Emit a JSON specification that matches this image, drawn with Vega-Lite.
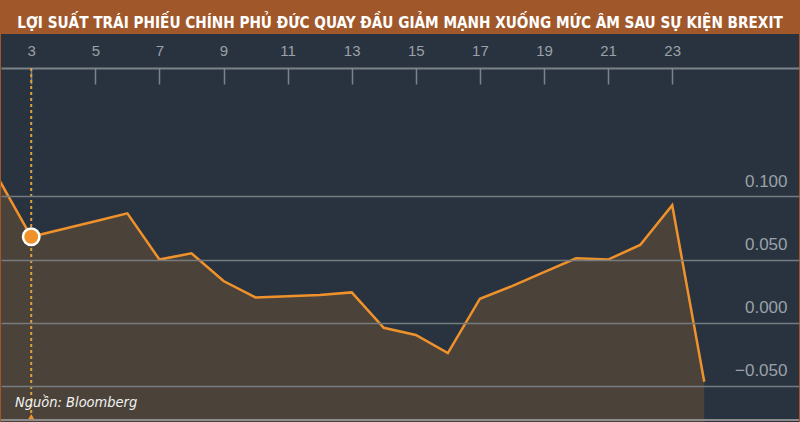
{
  "$schema": "https://vega.github.io/schema/vega-lite/v6.json",
  "width": 800,
  "height": 422,
  "autosize": {"type": "fit", "contains": "padding"},
  "padding": {"top": 16, "left": 0, "right": 0, "bottom": 0},
  "background": "#a0582b",
  "title": {
    "text": "LỢI SUẤT TRÁI PHIẾU CHÍNH PHỦ ĐỨC QUAY ĐẦU GIẢM MẠNH XUỐNG MỨC ÂM SAU SỰ KIỆN BREXIT",
    "font": "DejaVu Sans Condensed",
    "fontSize": 15.2,
    "fontWeight": "bold",
    "color": "#ffffff",
    "anchor": "middle",
    "offset": 2.8
  },
  "config": {
    "view": {"fill": "#29333f", "stroke": null}
  },
  "data": {
    "values": [
      {"day": 2, "yield": 0.113},
      {"day": 3, "yield": 0.068},
      {"day": 4, "yield": 0.0742},
      {"day": 5, "yield": 0.0803},
      {"day": 6, "yield": 0.0865},
      {"day": 7, "yield": 0.050},
      {"day": 8, "yield": 0.055},
      {"day": 9, "yield": 0.033},
      {"day": 10, "yield": 0.020},
      {"day": 11, "yield": 0.021},
      {"day": 12, "yield": 0.022},
      {"day": 13, "yield": 0.024},
      {"day": 14, "yield": -0.004},
      {"day": 15, "yield": -0.0097},
      {"day": 16, "yield": -0.024},
      {"day": 17, "yield": 0.019},
      {"day": 18, "yield": 0.029},
      {"day": 19, "yield": 0.040},
      {"day": 20, "yield": 0.051},
      {"day": 21, "yield": 0.050},
      {"day": 22, "yield": 0.0615},
      {"day": 23, "yield": 0.093},
      {"day": 24, "yield": -0.0467}
    ]
  },
  "layer": [
    {
      "mark": {"type": "area", "color": "#4b4239", "clip": true},
      "encoding": {
        "x": {
          "field": "day",
          "type": "quantitative",
          "title": null,
          "scale": {"domain": [2.057, 26.956], "nice": false, "zero": false},
          "axis": {
            "orient": "bottom",
            "offset": -354,
            "values": [3, 5, 7, 9, 11, 13, 15, 17, 19, 21, 23],
            "title": null,
            "grid": false,
            "domainColor": "#7d838a",
            "domainWidth": 2,
            "tickColor": "#7d838a",
            "tickWidth": 1.5,
            "tickSize": 16,
            "labelPadding": -40.5,
            "labelFont": "Liberation Sans",
            "labelFontSize": 15,
            "labelColor": "#9aa1a8",
            "labelFlush": false,
            "labelOverlap": false
          }
        },
        "y": {
          "field": "yield",
          "type": "quantitative",
          "title": null,
          "scale": {"domain": [-0.0785, 0.2284], "nice": false, "zero": false},
          "axis": {
            "orient": "right",
            "values": [-0.05, 0, 0.05, 0.1],
            "format": ".3f",
            "title": null,
            "domain": false,
            "ticks": false,
            "grid": true,
            "gridColor": "#767b80",
            "gridWidth": 1.5,
            "zindex": 1,
            "labelAlign": "right",
            "labelBaseline": "alphabetic",
            "labelPadding": -12,
            "labelOffset": -10,
            "labelFont": "Liberation Sans",
            "labelFontSize": 17,
            "labelColor": "#9aa1a8"
          }
        },
        "y2": {"datum": -0.0785}
      }
    },
    {
      "mark": {"type": "line", "color": "#f0922b", "strokeWidth": 2.5, "clip": true},
      "encoding": {
        "x": {"field": "day", "type": "quantitative", "title": null},
        "y": {"field": "yield", "type": "quantitative", "title": null}
      }
    },
    {
      "transform": [{"filter": "datum.day == 3"}],
      "mark": {"type": "rule", "color": "#e0a040", "strokeWidth": 2, "strokeDash": [3, 3]},
      "encoding": {
        "x": {"field": "day", "type": "quantitative", "title": null},
        "y": {"datum": 0.2015},
        "y2": {"datum": -0.0765}
      }
    },
    {
      "transform": [{"filter": "datum.day == 3"}],
      "mark": {"type": "point", "shape": "triangle-up", "filled": true, "color": "#f0922b", "size": 45, "opacity": 1},
      "encoding": {
        "x": {"field": "day", "type": "quantitative", "title": null},
        "y": {"datum": -0.0745}
      }
    },
    {
      "transform": [{"filter": "datum.day == 3"}],
      "mark": {"type": "point", "shape": "circle", "filled": true, "fill": "#f0922b", "stroke": "#ffffff", "strokeWidth": 2.5, "size": 270, "opacity": 1},
      "encoding": {
        "x": {"field": "day", "type": "quantitative", "title": null},
        "y": {"field": "yield", "type": "quantitative", "title": null}
      }
    },
    {
      "transform": [{"filter": "datum.day == 3"}],
      "mark": {"type": "text", "text": "Nguồn: Bloomberg", "font": "DejaVu Sans Condensed", "fontStyle": "italic", "fontSize": 14.5, "color": "#f2f2f2", "align": "left", "baseline": "middle"},
      "encoding": {"x": {"datum": 2.493}, "y": {"datum": -0.0635}}
    },
    {
      "mark": {"type": "rule", "color": "#8c8c8c", "strokeWidth": 1.5},
      "encoding": {"y": {"datum": -0.0768}}
    }
  ]
}
